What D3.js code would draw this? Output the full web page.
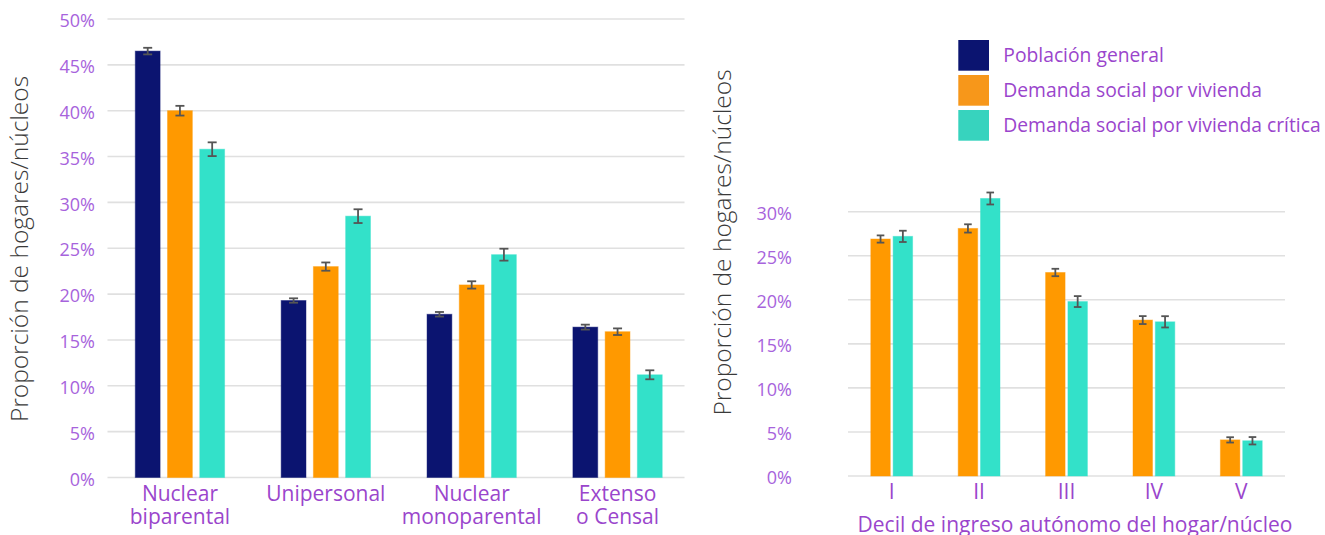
<!DOCTYPE html>
<html>
<head>
<meta charset="utf-8">
<script src="https://cdn.jsdelivr.net/npm/d3@7"></script>
<style>
  body { margin: 0; background: #fff; }
  text { font-family: "Open Sans", "Noto Sans", sans-serif; }
</style>
</head>
<body>
<script>
// series
const seriesNames = ['Población general', 'Demanda social por vivienda', 'Demanda social por vivienda crítica'];

// left chart: tipo de hogar
const tipoCategories = ['Nuclear\nbiparental', 'Unipersonal', 'Nuclear\nmonoparental', 'Extenso\no Censal'];
const tipoGeneral = [46.5, 19.3, 17.8, 16.4];
const tipoGeneralErr = [0.36, 0.24, 0.25, 0.27];
const tipoDemanda = [40.0, 23.0, 21.0, 15.9];
const tipoDemandaErr = [0.53, 0.45, 0.4, 0.36];
const tipoCritica = [35.8, 28.5, 24.3, 11.2];
const tipoCriticaErr = [0.75, 0.75, 0.65, 0.49];
const tipoTicks = [0, 5, 10, 15, 20, 25, 30, 35, 40, 45, 50];

// right chart: decil de ingreso
const decilCategories = ['I', 'II', 'III', 'IV', 'V'];
const decilDemanda = [26.9, 28.1, 23.1, 17.7, 4.1];
const decilDemandaErr = [0.41, 0.47, 0.42, 0.45, 0.3];
const decilCritica = [27.2, 31.5, 19.8, 17.5, 4.0];
const decilCriticaErr = [0.64, 0.68, 0.62, 0.64, 0.42];
const decilTicks = [0, 5, 10, 15, 20, 25, 30];

const width = 1325;
const height = 535;

const barColors = ['#0b1470', '#ff9900', '#33e1c9'];
const legendColors = ['#0b1470', '#f7971a', '#37d3be'];
const tickColor = '#a763dc';
const labelColor = '#9a45cc';
const gridColor = '#e0e0e0';
const errColor = '#555555';

const svg = d3.select('body').append('svg')
  .attr('width', width)
  .attr('height', height);

const drawChart = (opts) => {
  const { categories, series, colors, y, xRange, gridX, ticks, tickX, capHalf, groupPad, barPad } = opts;

  const g = svg.append('g');

  const x0 = d3.scaleBand()
    .domain(categories)
    .range(xRange)
    .paddingInner(groupPad)
    .paddingOuter(groupPad / 2);

  const x1 = d3.scaleBand()
    .domain(d3.range(series.length))
    .range([0, x0.bandwidth()])
    .paddingInner(barPad)
    .paddingOuter(barPad / 2);

  // grid
  g.append('g').selectAll('line')
    .data(ticks)
    .join('line')
    .attr('x1', gridX[0])
    .attr('x2', gridX[1])
    .attr('y1', d => y(d))
    .attr('y2', d => y(d))
    .attr('stroke', gridColor)
    .attr('stroke-width', 1.6);

  // y tick labels
  g.append('g').selectAll('text')
    .data(ticks)
    .join('text')
    .attr('x', tickX)
    .attr('y', d => y(d))
    .attr('dy', '0.45em')
    .attr('text-anchor', 'end')
    .attr('fill', tickColor)
    .style('font-size', '18px')
    .text(d => d + '%');

  // bars
  series.forEach((s, si) => {
    const sg = g.append('g');
    sg.selectAll('rect')
      .data(s.values)
      .join('rect')
      .attr('x', (d, i) => x0(categories[i]) + x1(si))
      .attr('width', x1.bandwidth())
      .attr('y', d => y(d))
      .attr('height', d => y(0) - y(d))
      .attr('fill', colors[si])
      .attr('stroke', colors[si])
      .attr('stroke-opacity', 0.45)
      .attr('stroke-width', 1);

    const cx = i => x0(categories[i]) + x1(si) + x1.bandwidth() / 2;

    const eg = sg.append('g')
      .attr('stroke', errColor)
      .attr('stroke-width', 1.8);

    s.values.forEach((v, i) => {
      const e = s.err[i];
      const c = cx(i);
      eg.append('line')
        .attr('x1', c).attr('x2', c)
        .attr('y1', y(v - e)).attr('y2', y(v + e));
      [v - e, v + e].forEach(b => {
        eg.append('line')
          .attr('x1', c - capHalf).attr('x2', c + capHalf)
          .attr('y1', y(b)).attr('y2', y(b));
      });
    });
  });

  // x tick labels
  const xl = g.append('g').selectAll('text')
    .data(categories)
    .join('text')
    .attr('x', d => x0(d) + x0.bandwidth() / 2)
    .attr('y', y(0) + 23)
    .attr('text-anchor', 'middle')
    .attr('fill', labelColor)
    .style('font-size', '21px');

  xl.selectAll('tspan')
    .data(d => d.split('\n'))
    .join('tspan')
    .attr('x', function() { return d3.select(this.parentNode).attr('x'); })
    .attr('dy', (d, i) => i === 0 ? 0 : 23.5)
    .text(d => d);

  return g;
};

// left chart
const yLeft = d3.scaleLinear().domain([0, 50]).range([477.5, 19]);
drawChart({
  categories: tipoCategories,
  series: [
    { values: tipoGeneral, err: tipoGeneralErr },
    { values: tipoDemanda, err: tipoDemandaErr },
    { values: tipoCritica, err: tipoCriticaErr }
  ],
  colors: barColors,
  y: yLeft,
  xRange: [107, 690.5],
  gridX: [107.5, 684.5],
  ticks: tipoTicks,
  tickX: 95,
  capHalf: 4.5,
  groupPad: 0.337,
  barPad: 0.23
});

// right chart
const yRight = d3.scaleLinear().domain([0, 30]).range([476, 211.7]);
drawChart({
  categories: decilCategories,
  series: [
    { values: decilDemanda, err: decilDemandaErr },
    { values: decilCritica, err: decilCriticaErr }
  ],
  colors: barColors.slice(1),
  y: yRight,
  xRange: [848, 1285],
  gridX: [848, 1285],
  ticks: decilTicks,
  tickX: 792,
  capHalf: 3.8,
  groupPad: 0.489,
  barPad: 0.128
});

// axis titles
svg.append('text')
  .attr('transform', 'translate(28,249) rotate(-90)')
  .attr('text-anchor', 'middle')
  .attr('fill', '#3a3a3a')
  .style('font-size', '24.5px')
  .style('font-weight', 300)
  .text('Proporción de hogares/núcleos');

svg.append('text')
  .attr('transform', 'translate(731,242.5) rotate(-90)')
  .attr('text-anchor', 'middle')
  .attr('fill', '#3a3a3a')
  .style('font-size', '24.5px')
  .style('font-weight', 300)
  .text('Proporción de hogares/núcleos');

svg.append('text')
  .attr('x', 1075)
  .attr('y', 532)
  .attr('text-anchor', 'middle')
  .attr('fill', labelColor)
  .style('font-size', '21px')
  .text('Decil de ingreso autónomo del hogar/núcleo');

// legend
const legend = svg.append('g').attr('transform', 'translate(958.3,40)');
const li = legend.selectAll('g')
  .data(seriesNames)
  .join('g')
  .attr('transform', (d, i) => `translate(0,${i * 35})`);

li.append('rect')
  .attr('width', 30.7)
  .attr('height', 30.7)
  .attr('fill', (d, i) => legendColors[i]);

li.append('text')
  .attr('x', 45)
  .attr('y', 15.4)
  .attr('dy', '0.35em')
  .attr('fill', labelColor)
  .style('font-size', '19.3px')
  .text(d => d);
</script>
</body>
</html>
